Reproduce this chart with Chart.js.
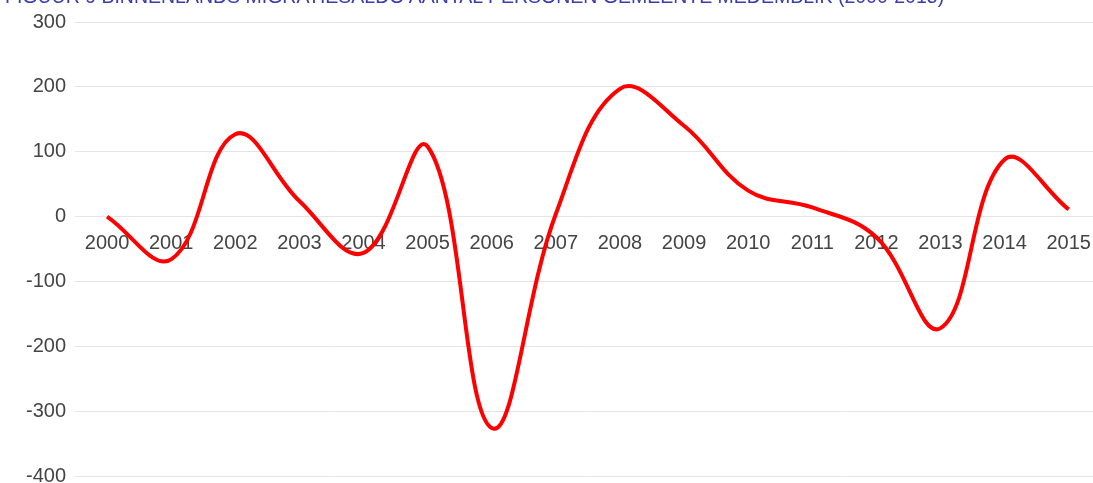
<!DOCTYPE html>
<html>
<head>
<meta charset="utf-8">
<script src="https://cdn.jsdelivr.net/npm/chart.js@4/dist/chart.umd.min.js"></script>
<style>
  html, body { margin: 0; padding: 0; background: #fff; overflow: hidden; }
  #wrap { position: relative; width: 1093px; height: 483px; overflow: hidden; }
  #title {
    position: absolute; left: 5px; top: -13px; white-space: nowrap;
    font: 19.5px "Liberation Sans", Arial, sans-serif; line-height: 19.5px;
    color: #3b3bb0;
  }
  canvas { position: absolute; left: 0; top: 0; }
</style>
</head>
<body>
<div id="wrap">
  <canvas id="c" width="1106" height="497"></canvas>
  <div id="title">FIGUUR 9 BINNENLANDS MIGRATIESALDO AANTAL PERSONEN GEMEENTE MEDEMBLIK (2000-2015)</div>
</div>
<script>
// Years on the horizontal axis
const years = ['2000','2001','2002','2003','2004','2005','2006','2007','2008','2009','2010','2011','2012','2013','2014','2015'];
// Domestic migration balance (persons)
const saldo = [0, -66, 127, 24, -56, 108, -326, 4, 197, 140, 40, 14, -32, -172, 88, 11];
// Vertical axis range
const yMin = -400;
const yMax = 300;
const yStep = 100;

const tickFont = { family: '"Liberation Sans", Arial, sans-serif', size: 20 };

new Chart(document.getElementById('c'), {
  type: 'line',
  data: {
    labels: years,
    datasets: [{
      data: saldo,
      borderColor: '#ff0000',
      borderWidth: 4,
      tension: 0.4,
      pointRadius: 0,
      fill: false
    }]
  },
  options: {
    responsive: false,
    animation: false,
    layout: { padding: { top: 22, bottom: 7, left: 0, right: 1 } },
    plugins: { legend: { display: false }, tooltip: { enabled: false }, title: { display: false } },
    scales: {
      x: {
        type: 'category',
        position: { y: 0 },
        offset: true,
        grid: { display: false, drawTicks: false },
        border: { display: false },
        ticks: { font: tickFont, color: '#444', padding: 15, maxRotation: 0, autoSkip: false }
      },
      y: {
        min: yMin,
        max: yMax,
        afterFit: (s) => { s.width = 75; },
        grid: { color: '#e4e4e4', lineWidth: 1, drawTicks: false },
        border: { display: false },
        ticks: { stepSize: yStep, font: tickFont, color: '#444', padding: 9 }
      }
    }
  }
});
</script>
</body>
</html>
